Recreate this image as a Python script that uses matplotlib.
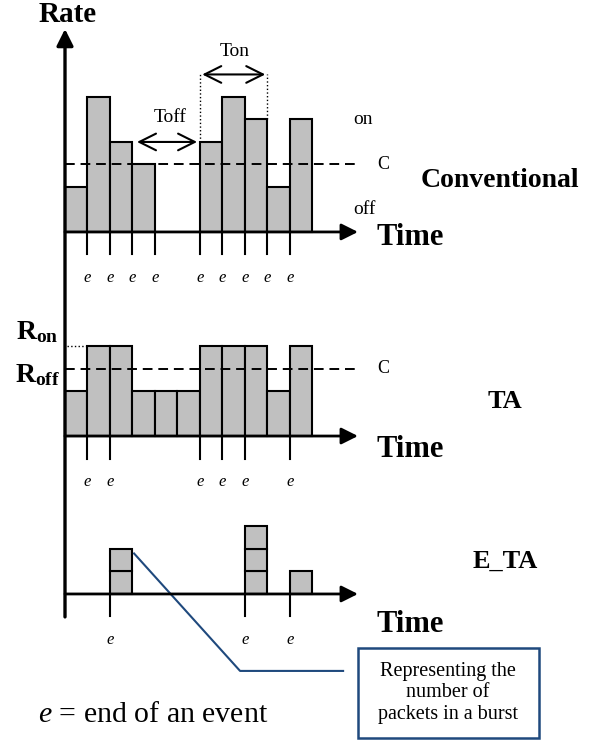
import matplotlib
matplotlib.use("Agg")
import matplotlib.pyplot as plt
from matplotlib.patches import Rectangle

plt.rcParams['font.family'] = ['Liberation Serif', 'DejaVu Serif']
plt.rcParams['mathtext.fontset'] = 'custom'
plt.rcParams['mathtext.rm'] = 'Liberation Serif'
plt.rcParams['mathtext.it'] = 'Liberation Serif:italic'
plt.rcParams['mathtext.bf'] = 'Liberation Serif:bold'

# rate per time slot (in units of one grid square)
conv_heights = [2, 6, 4, 3, 0, 0, 4, 6, 5, 2, 5]
ta_heights = [2, 4, 4, 2, 2, 2, 4, 4, 4, 2, 4]
eta_packets = [0, 0, 2, 0, 0, 0, 0, 0, 3, 0, 1]

# slot boundaries where an event ends
conv_events = [1, 2, 3, 4, 6, 7, 8, 9, 10]
ta_events = [1, 2, 6, 7, 8, 10]
eta_events = [2, 8, 10]

capacity = 3
r_on = 4
r_off = 2
ton_span = [6, 9]
toff_span = [3.2, 5.87]

panel_names = ['Conventional', 'TA', 'E_TA']
bases = [22.58, 13.51, 6.49]

GREY = '#c0c0c0'
NAVY = '#1F497D'
U = 22.5  # pixels per grid unit

fig = plt.figure(figsize=(5.99, 7.40), dpi=100)
ax = fig.add_axes([0, 0, 1, 1])
ax.set_xlim(-65 / U, (599 - 65) / U)
ax.set_ylim(0, 740 / U)
ax.axis('off')

arrow_kw = dict(arrowstyle='-|>,head_length=0.5,head_width=0.25', mutation_scale=20,
                lw=2, color='black', shrinkA=0, shrinkB=0)

# vertical rate axis
ax.annotate('', xy=(0, 31.6), xytext=(0, 5.47), arrowprops=dict(arrow_kw, lw=2.4), zorder=5)
ax.text(0.13, 31.91, 'Rate', fontsize=21, fontweight='bold', ha='center', va='baseline')


def draw_panel(base, heights, events, time_dy):
    for i, h in enumerate(heights):
        if h > 0:
            ax.bar(i, h, width=1, bottom=base, align='edge', color=GREY,
                   edgecolor='black', lw=1.5, zorder=2)
    ax.annotate('', xy=(13.02, base), xytext=(0, base), arrowprops=arrow_kw, zorder=5)
    for ev in events:
        ax.plot([ev, ev], [base, base - 1.0], color='black', lw=1.5, zorder=3)
        ax.text(ev, base - 2.05, 'e', fontsize=12, style='italic', ha='center', va='center')
    ax.text(15.33, base + time_dy, 'Time', fontsize=22, fontweight='bold',
            ha='center', va='baseline')


# Conventional
b = bases[0]
draw_panel(b, conv_heights, conv_events, -0.58)
ax.plot([0, 13.1], [b + capacity] * 2, color='black', lw=1.4, ls=(0, (5, 3)), zorder=4)
ax.text(14.13, b + capacity, 'C', fontsize=13, ha='center', va='center')
ax.text(13.24, b + 5, 'on', fontsize=14, ha='center', va='center')
ax.text(13.33, b + 0.98, 'off', fontsize=14, ha='center', va='center')
ax.text(19.33, b + 2.0, panel_names[0], fontsize=20, fontweight='bold', ha='center', va='baseline')

# Ton marker
for xe in ton_span:
    ax.plot([xe, xe], [b + conv_heights[xe - 1 if xe == 9 else xe], b + 7.02],
            color='black', lw=1, ls=':', zorder=1)
ax.annotate('', xy=(ton_span[1] - 0.1, b + 7.0), xytext=(ton_span[0] + 0.1, b + 7.0),
            arrowprops=dict(arrowstyle='<->,head_length=0.4,head_width=0.2',
                            mutation_scale=30, lw=1.5, color='black',
                            shrinkA=0, shrinkB=0))
ax.text(sum(ton_span) / 2 + 0.06, b + 8.0, 'Ton', fontsize=14, ha='center', va='center')

# Toff marker
ax.annotate('', xy=(toff_span[1], b + 4.0), xytext=(toff_span[0], b + 4.0),
            arrowprops=dict(arrowstyle='<->,head_length=0.4,head_width=0.2',
                            mutation_scale=30, lw=1.5, color='black',
                            shrinkA=0, shrinkB=0))
ax.text(4.67, b + 5.07, 'Toff', fontsize=14, ha='center', va='center')

# TA
b = bases[1]
draw_panel(b, ta_heights, ta_events, -0.93)
ax.plot([0, 13.1], [b + capacity] * 2, color='black', lw=1.4, ls=(0, (5, 3)), zorder=4)
ax.text(14.13, b + capacity, 'C', fontsize=13, ha='center', va='center')
ax.plot([0.1, 1], [b + r_on] * 2, color='black', lw=1, ls=':')
ax.text(-1.24, b + r_on + 0.6, r'$\mathbf{R_{on}}$', fontsize=20, ha='center', va='center')
ax.text(-1.24, b + r_off + 0.7, r'$\mathbf{R_{off}}$', fontsize=20, ha='center', va='center')
ax.text(19.56, b + 1.24, panel_names[1], fontsize=19, fontweight='bold', ha='center', va='baseline')

# E_TA: one box per packet in the burst
b = bases[2]
ax.annotate('', xy=(13.02, b), xytext=(0, b), arrowprops=arrow_kw, zorder=5)
for i, n in enumerate(eta_packets):
    for k in range(n):
        ax.bar(i, 1, width=1, bottom=b + k, align='edge', color=GREY,
               edgecolor='black', lw=1.5, zorder=2)
for ev in eta_events:
    ax.plot([ev, ev], [b, b - 1.0], color='black', lw=1.5, zorder=3)
    ax.text(ev, b - 2.05, 'e', fontsize=12, style='italic', ha='center', va='center')
ax.text(15.33, b - 1.69, 'Time', fontsize=22, fontweight='bold', ha='center', va='baseline')
ax.text(19.56, b + 1.16, panel_names[2], fontsize=19, fontweight='bold', ha='center', va='baseline')

# callout
ax.plot([3.07, 7.78, 12.36], [b + 1.8, b - 3.42, b - 3.42], color=NAVY, lw=1.5, zorder=3)
ax.add_patch(Rectangle((13.02, 0.09), 8.05, 4.0, fill=False, edgecolor=NAVY, lw=1.8))
ax.text(17.02, 2.09, 'Representing the\nnumber of\npackets in a burst', fontsize=14.5,
        ha='center', va='center', linespacing=1.15)

ax.text(-1.2, 0.8, r'$\mathit{e}$ = end of an event', fontsize=21.5, ha='left', va='baseline')

fig.savefig('out.png', dpi=100)
